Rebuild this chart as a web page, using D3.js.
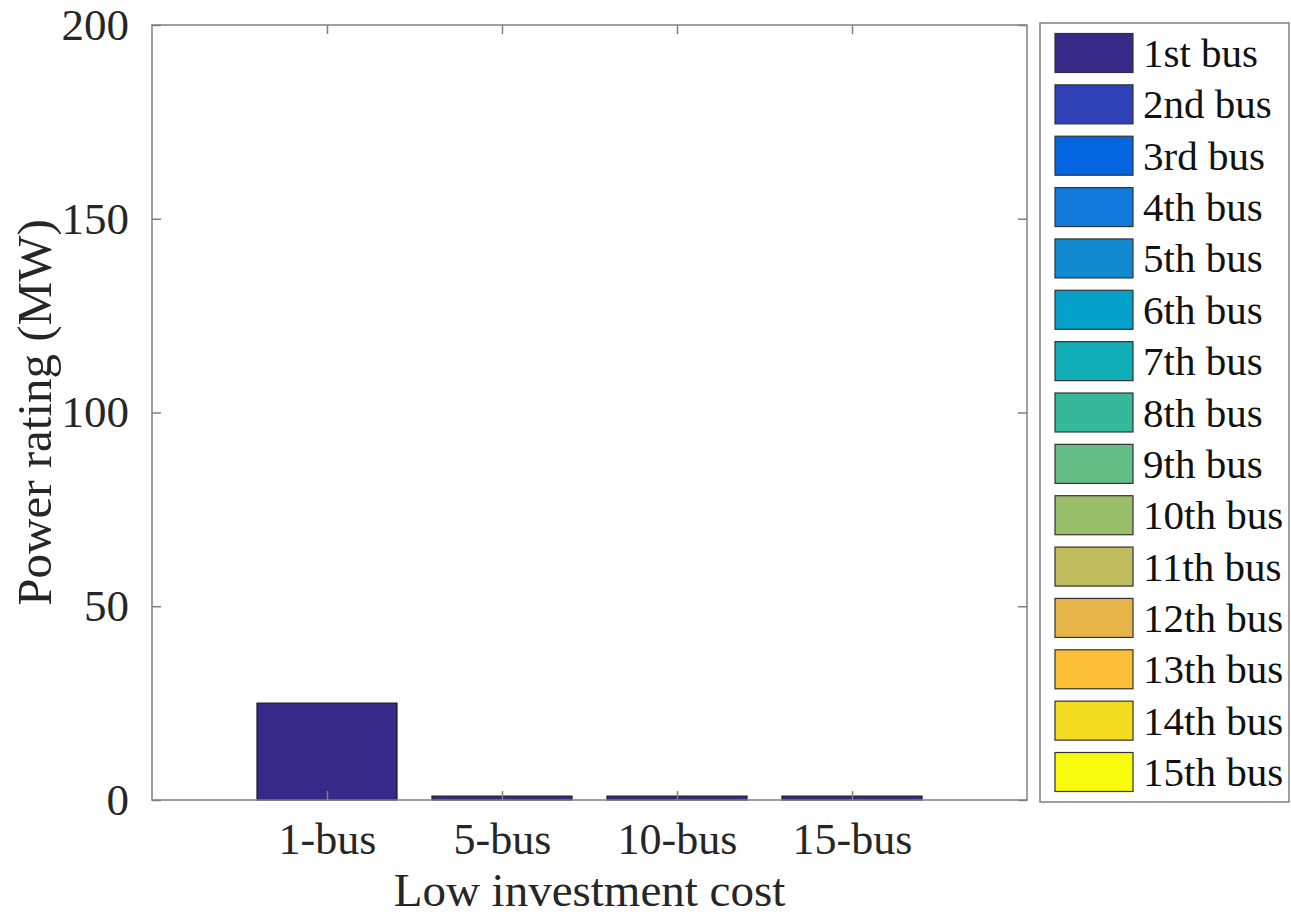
<!DOCTYPE html>
<html><head><meta charset="utf-8">
<script src="https://cdn.jsdelivr.net/npm/d3@7"></script>
<style>body{margin:0;background:#fff}svg{display:block}</style>
</head><body>
<svg id="c" width="1291" height="918"></svg>
<script>
const categories = ["1-bus","5-bus","10-bus","15-bus"];
const seriesNames = ["1st bus","2nd bus","3rd bus","4th bus","5th bus","6th bus","7th bus","8th bus","9th bus","10th bus","11th bus","12th bus","13th bus","14th bus","15th bus"];
// values[s][c]: power rating of series s in category c (MW)
const s1 = [25, 1, 1, 1];
const s2 = [0, 0, 0, 0];
const s3 = [0, 0, 0, 0];
const s4 = [0, 0, 0, 0];
const s5 = [0, 0, 0, 0];
const s6 = [0, 0, 0, 0];
const s7 = [0, 0, 0, 0];
const s8 = [0, 0, 0, 0];
const s9 = [0, 0, 0, 0];
const s10 = [0, 0, 0, 0];
const s11 = [0, 0, 0, 0];
const s12 = [0, 0, 0, 0];
const s13 = [0, 0, 0, 0];
const s14 = [0, 0, 0, 0];
const s15 = [0, 0, 0, 0];
const seriesValues = [s1,s2,s3,s4,s5,s6,s7,s8,s9,s10,s11,s12,s13,s14,s15];
const colors = ["#352a87","#2f41b7","#0366e0","#1079db","#1389d2","#05a0ca","#11aeb8","#36b89b","#64bd84","#9abf6b","#c0bb5d","#e7b64b","#fdbf37","#f3dc20","#f9fb0e"];
const yTicks = [0, 50, 100, 150, 200];
const yLabel = "Power rating (MW)";
const xLabel = "Low investment cost";

const svg = d3.select("#c");
const L = 152, R = 1027, T = 25, B = 800;
const font = "'Liberation Serif','Times New Roman',serif";
const axisCol = "#808080", textCol = "#262626";

const x = d3.scaleLinear().domain([0, categories.length + 1]).range([L, R]);
const y = d3.scaleLinear().domain([0, 200]).range([B, T]);
const bw = (x(1) - x(0)) * 0.8;

// stack
const table = categories.map((c, i) => {
  const o = {cat: c, idx: i + 1};
  seriesNames.forEach((s, j) => o[s] = seriesValues[j][i]);
  return o;
});
const stacked = d3.stack().keys(seriesNames)(table);

const g = svg.append("g");
stacked.forEach((layer, j) => {
  g.selectAll(null).data(layer.filter(d => d[1] - d[0] > 0)).join("rect")
    .attr("x", d => x(d.data.idx) - bw / 2)
    .attr("width", bw)
    .attr("y", d => y(d[1]))
    .attr("height", d => y(d[0]) - y(d[1]))
    .attr("fill", colors[j])
    .attr("stroke", "#1a1a1a")
    .attr("stroke-width", 1.2);
});

// axes box
svg.append("rect").attr("x", L).attr("y", T).attr("width", R - L).attr("height", B - T)
  .attr("fill", "none").attr("stroke", axisCol).attr("stroke-width", 1.5);

const tl = 9;
// y ticks (inside left and right)
const yAxisL = d3.axisLeft(y).tickValues(yTicks).tickSizeInner(-tl).tickSizeOuter(0).tickPadding(tl + 14);
const ga = svg.append("g").attr("transform", `translate(${L},0)`).call(yAxisL);
ga.select(".domain").remove();
ga.selectAll("line").attr("stroke", axisCol).attr("stroke-width", 1.5);
ga.selectAll("text").attr("font-family", font).attr("font-size", 45).attr("fill", textCol);
const yAxisR = d3.axisRight(y).tickValues(yTicks).tickSizeInner(-tl).tickSizeOuter(0).tickFormat("");
const gr = svg.append("g").attr("transform", `translate(${R},0)`).call(yAxisR);
gr.select(".domain").remove();
gr.selectAll("line").attr("stroke", axisCol).attr("stroke-width", 1.5);

// x ticks (inside top and bottom)
const xt = categories.map((c, i) => i + 1);
const xAxisB = d3.axisBottom(x).tickValues(xt).tickFormat((d) => categories[d - 1]).tickSizeInner(-tl).tickSizeOuter(0).tickPadding(tl + 14);
const gb = svg.append("g").attr("transform", `translate(0,${B})`).call(xAxisB);
gb.select(".domain").remove();
gb.selectAll("line").attr("stroke", axisCol).attr("stroke-width", 1.5);
gb.selectAll("text").attr("font-family", font).attr("font-size", 44).attr("fill", textCol);
const xAxisT = d3.axisTop(x).tickValues(xt).tickFormat("").tickSizeInner(-tl).tickSizeOuter(0);
const gt = svg.append("g").attr("transform", `translate(0,${T})`).call(xAxisT);
gt.select(".domain").remove();
gt.selectAll("line").attr("stroke", axisCol).attr("stroke-width", 1.5);

// axis labels
svg.append("text").attr("x", (L + R) / 2).attr("y", 906).attr("text-anchor", "middle")
  .attr("font-family", font).attr("font-size", 47).attr("fill", textCol).text(xLabel);
svg.append("text").attr("transform", `translate(51,${(T + B) / 2}) rotate(-90)`).attr("text-anchor", "middle")
  .attr("font-family", font).attr("font-size", 49).attr("fill", textCol).text(yLabel);

// legend
const lg = svg.append("g");
lg.append("rect").attr("x", 1040).attr("y", 23).attr("width", 249).attr("height", 779)
  .attr("fill", "#fff").attr("stroke", axisCol).attr("stroke-width", 1.5);
const ly = d3.scaleLinear().domain([0, 14]).range([53, 772]);
seriesNames.forEach((s, j) => {
  lg.append("rect").attr("x", 1055).attr("y", ly(j) - 19.5).attr("width", 78).attr("height", 39)
    .attr("fill", colors[j]).attr("stroke", "#333").attr("stroke-width", 1.2);
  lg.append("text").attr("x", 1143).attr("y", ly(j) + 14).attr("font-family", font)
    .attr("font-size", 41).attr("fill", "#111").text(s);
});
</script>
</body></html>
